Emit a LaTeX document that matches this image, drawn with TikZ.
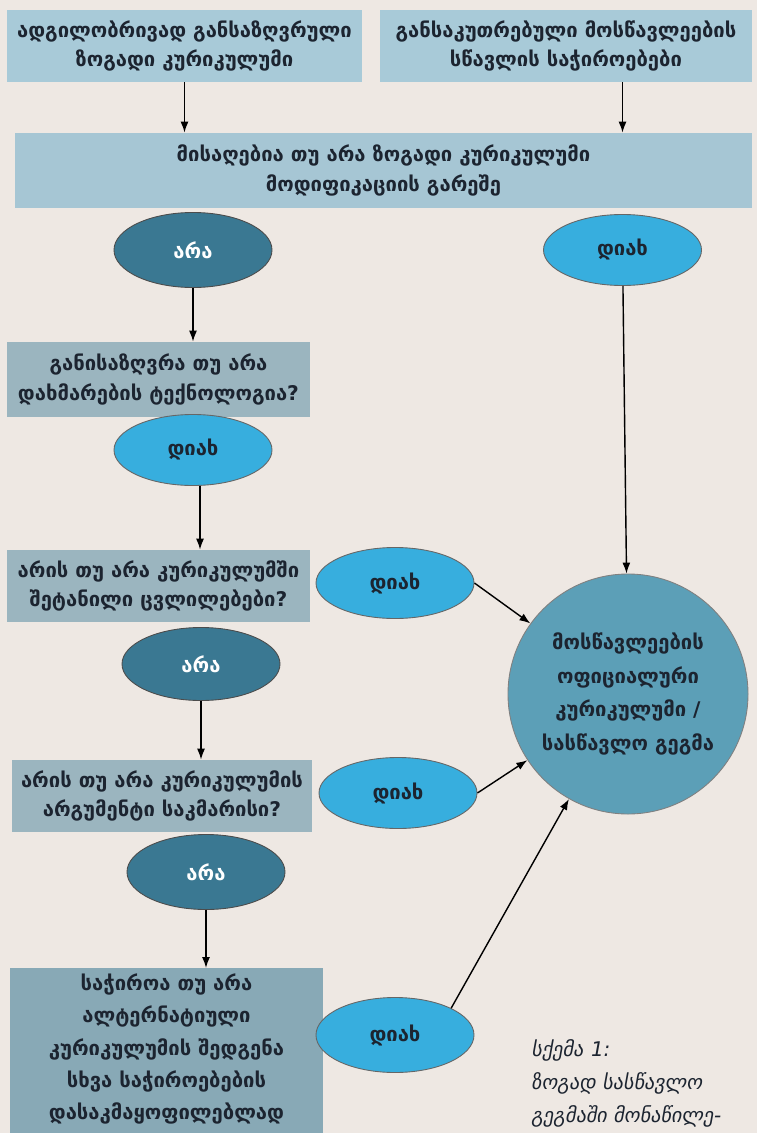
\documentclass[tikz,border=0pt]{standalone}
\usepackage{fontspec}
\setmainfont{DejaVu Sans}
\newfontfamily\capfont[FakeSlant=0.18]{DejaVu Sans}
\usepackage{xcolor}
\usetikzlibrary{shapes.geometric, arrows.meta, positioning}
\definecolor{paper}{HTML}{EEE8E3}
\definecolor{boxtop}{HTML}{A8CAD8}
\definecolor{boxgray}{HTML}{9BB5BF}
\definecolor{boxdark}{HTML}{88A9B6}
\definecolor{nocol}{HTML}{3A7892}
\definecolor{yescol}{HTML}{37AEDE}
\definecolor{goalcol}{HTML}{5C9FB7}
\definecolor{ink}{HTML}{1C2430}
\tikzstyle{question} = [rectangle, minimum height=1.44cm, align=center,
                        text=ink, font=\bfseries\fontsize{11.5}{17}\selectfont, inner sep=2pt]
\tikzstyle{answerno} = [ellipse, minimum width=3.16cm, minimum height=1.46cm, inner sep=0pt,
                        draw=black!70, fill=nocol, text=white, line width=0.5pt,
                        font=\bfseries\fontsize{11.5}{17}\selectfont]
\tikzstyle{answeryes} = [ellipse, minimum width=3.16cm, minimum height=1.42cm, inner sep=0pt,
                         draw=black!60, fill=yescol, text=ink, line width=0.5pt,
                         font=\bfseries\fontsize{11.5}{17}\selectfont]
\tikzstyle{goal} = [circle, minimum size=4.8cm, align=center, draw=black!50, fill=goalcol,
                    text=ink, line width=0.5pt, font=\bfseries\fontsize{11.5}{19}\selectfont]
\tikzstyle{arrow} = [-{Latex[length=2.2mm, width=1.6mm]}, line width=0.8pt]

\begin{document}
\begin{tikzpicture}
    \fill[paper] (0,0) rectangle (15.14,-22.66);
    \useasboundingbox (0,0) rectangle (15.14,-22.66);
    \clip (0,0) rectangle (15.14,-22.66);

    % inputs
    \node[question, fill=boxtop, minimum width=7.1cm] (local) at (3.69,-0.92)
        {ადგილობრივად განსაზღვრული\\ზოგადი კურიკულუმი};
    \node[question, fill=boxtop, minimum width=7.44cm] (special) at (11.32,-0.92)
        {განსაკუთრებული მოსწავლეების\\სწავლის საჭიროებები};
    \node[question, fill=boxtop!95!gray, minimum width=14.74cm, minimum height=1.5cm] (modify) at (7.67,-3.41)
        {მისაღებია თუ არა ზოგადი კურიკულუმი\\მოდიფიკაციის გარეშე};

    \node[answerno, minimum height=1.5cm] (no1) at (3.86,-5.0) {არა};
    \node[answeryes] (yes1) at (12.45,-5.0) {დიახ};

    % left column of questions
    \node[question, fill=boxgray, minimum width=6.06cm, minimum height=1.5cm] (assist) at (3.17,-7.59)
        {განისაზღვრა თუ არა\\დახმარების ტექნოლოგია?};
    \node[answeryes] (yes2) at (3.86,-9.0) {დიახ};

    \node[question, fill=boxgray, minimum width=6.06cm] (changes) at (3.17,-11.72)
        {არის თუ არა კურიკულუმში\\შეტანილი ცვლილებები?};
    \node[answeryes] (yes3) at (7.9,-11.66) {დიახ};
    \node[answerno] (no2) at (4.02,-13.28) {არა};

    \node[question, fill=boxgray, minimum width=6.0cm] (argument) at (3.24,-15.92)
        {არის თუ არა კურიკულუმის\\არგუმენტი საკმარისი?};
    \node[answeryes] (yes4) at (7.96,-15.86) {დიახ};
    \node[answerno, minimum height=1.5cm] (no3) at (4.12,-17.44) {არა};

    \node[question, fill=boxdark, minimum width=6.26cm, anchor=north, inner ysep=3pt,
          font=\bfseries\fontsize{11.5}{18.4}\selectfont] (alternative) at (3.33,-19.36)
        {საჭიროა თუ არა\\ალტერნატიული\\კურიკულუმის შედგენა\\სხვა საჭიროებების\\დასაკმაყოფილებლად\\[4pt]};
    \node[answeryes, minimum height=1.5cm] (yes5) at (7.9,-20.7) {დიახ};

    % result
    \node[goal] (official) at (12.56,-13.88)
        {მოსწავლეების\\ოფიციალური\\კურიკულუმი /\\სასწავლო გეგმა};

    \node[anchor=base west, align=left, text=ink, font=\capfont\fontsize{11.5}{18.7}\selectfont] (caption) at (10.5,-22.44)
        {სქემა 1:\\ზოგად სასწავლო\\გეგმაში მონაწილე-};

    \draw[arrow] (local.south) -- (local.south |- modify.north);
    \draw[arrow] (special.south -| yes1) -- (modify.north -| yes1);
    \draw[arrow] (no1.south) -- (no1.south |- assist.north);
    \draw[arrow] (yes1) -- (official);
    \draw[arrow] ([xshift=0.14cm]yes2.south) -- ([xshift=0.14cm]yes2.south |- changes.north);
    \draw[arrow] (yes3.east) -- (official);
    \draw[arrow] (no2.south) -- (no2.south |- argument.north);
    \draw[arrow] (yes4.east) -- (official);
    \draw[arrow] (no3.south) -- (no3.south |- alternative.north);
    \draw[arrow] (yes5.north east) -- (official);
\end{tikzpicture}
\end{document}
